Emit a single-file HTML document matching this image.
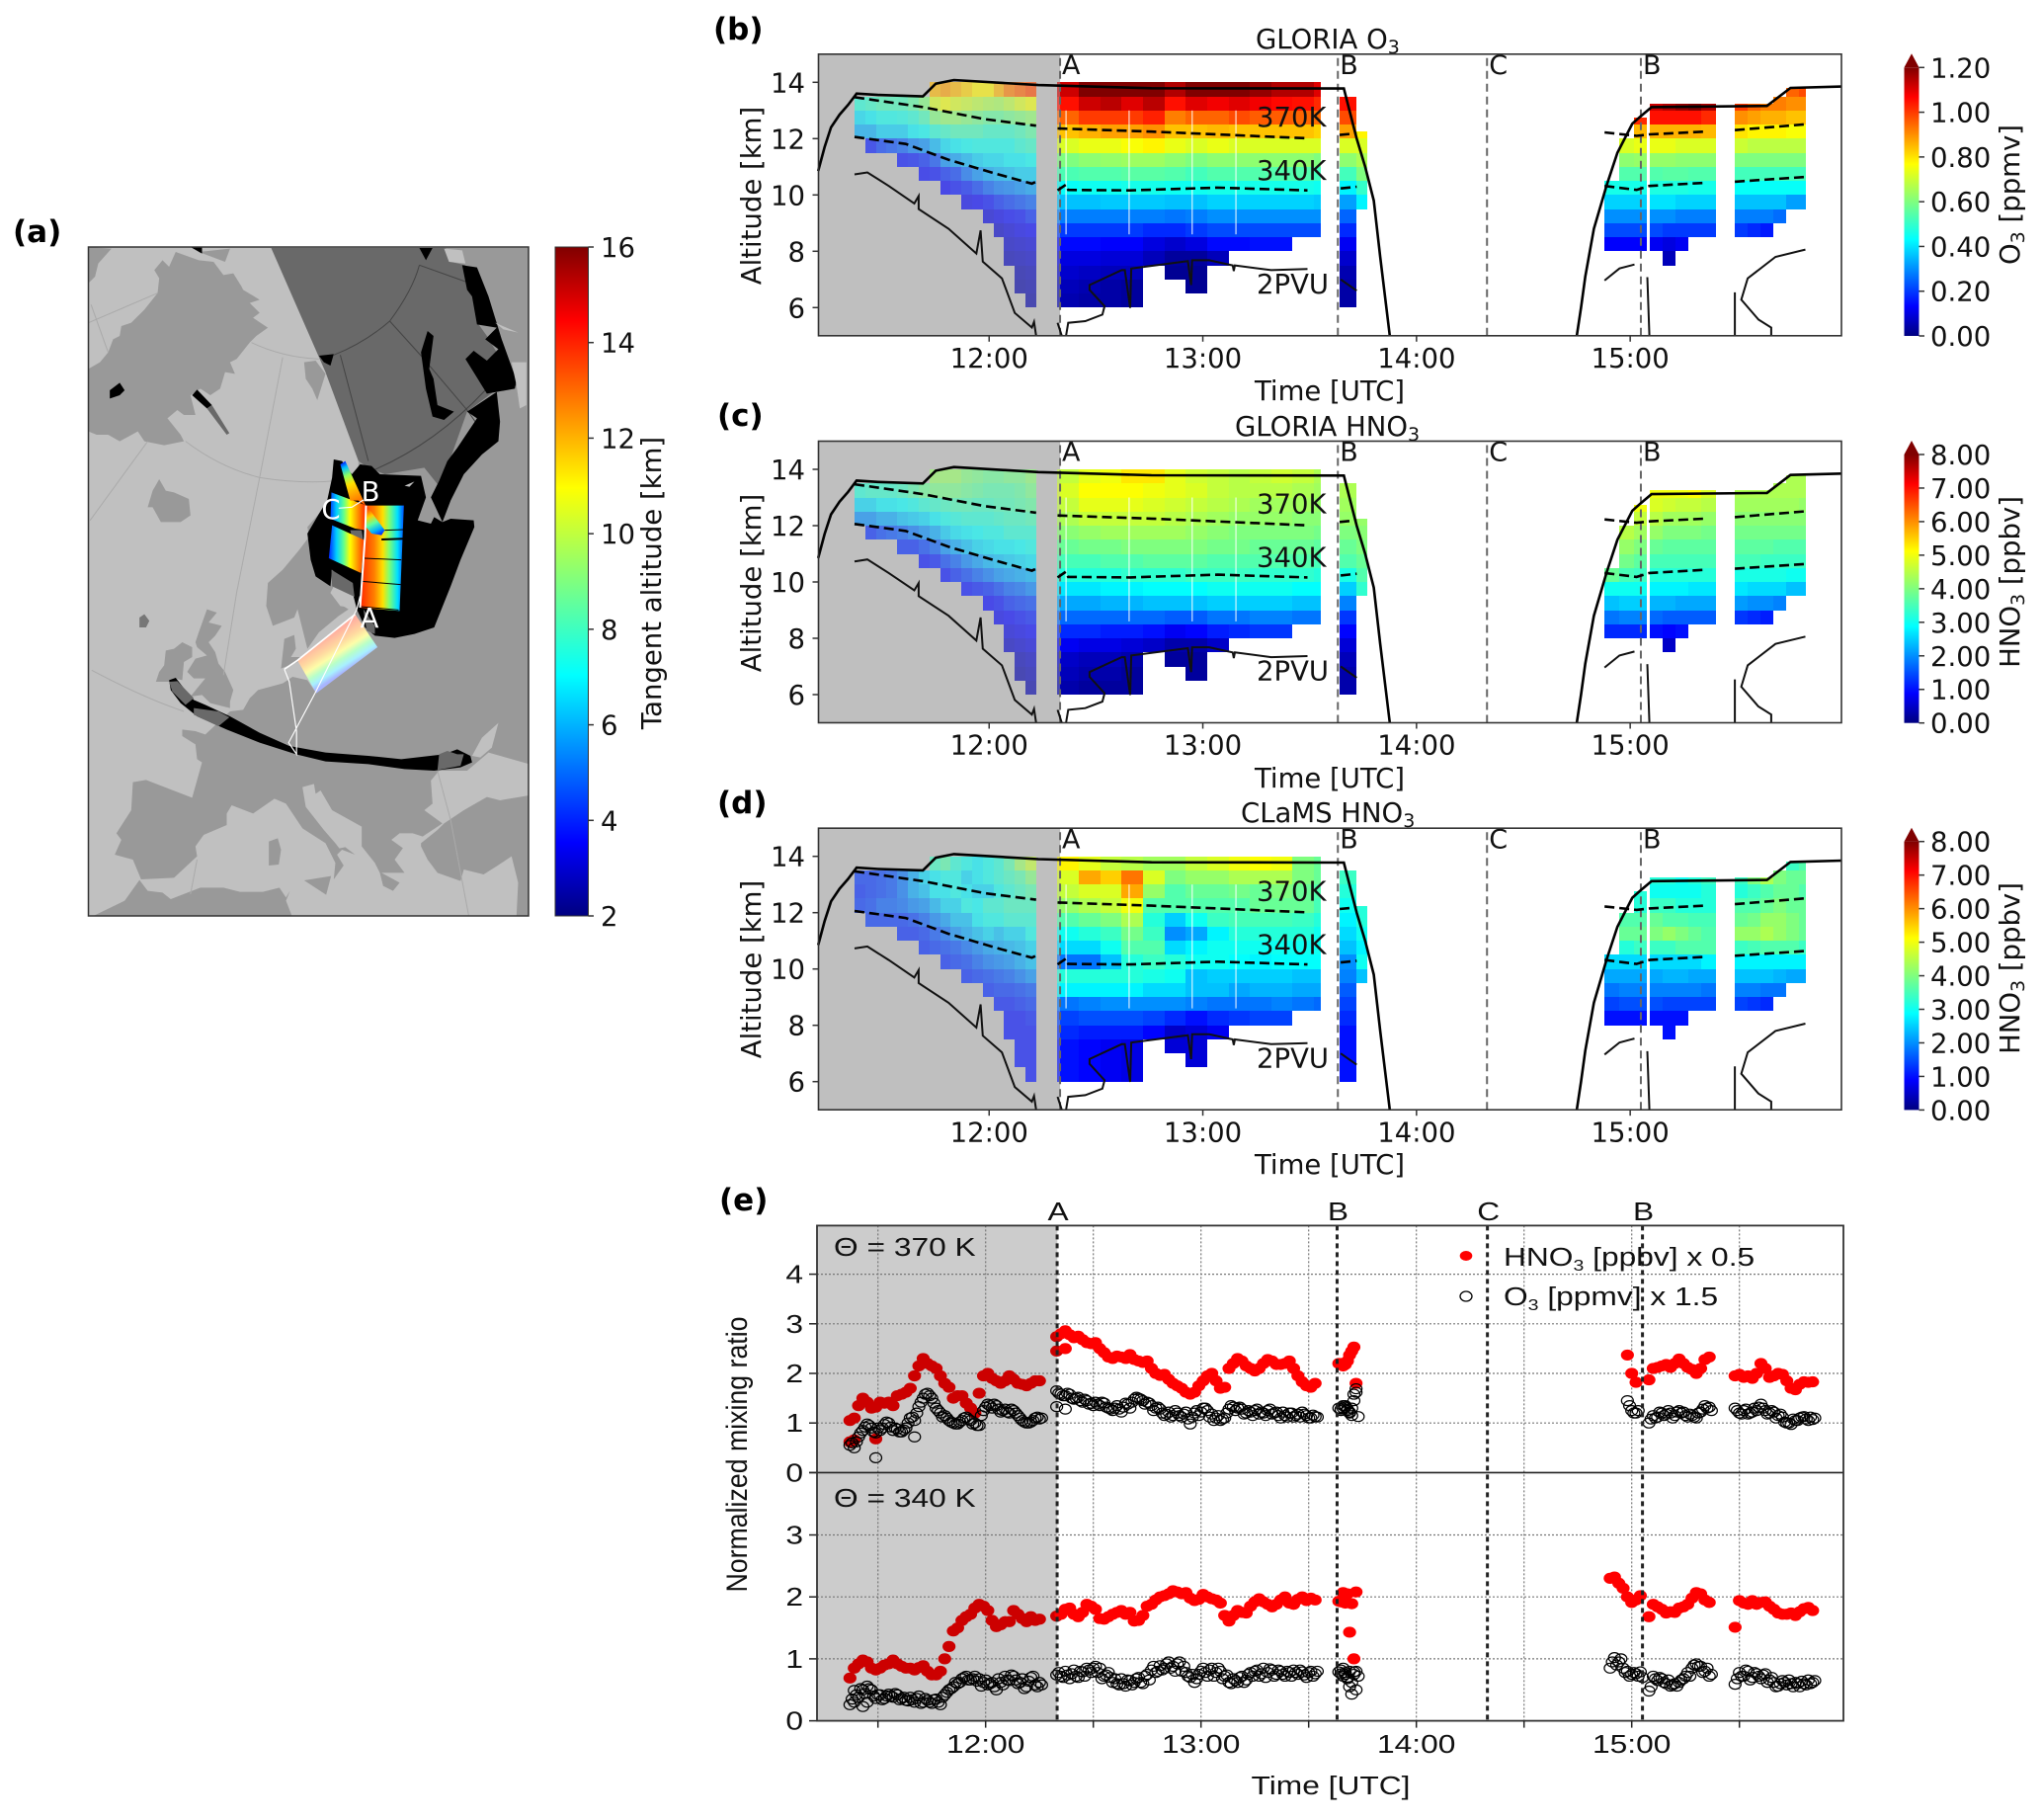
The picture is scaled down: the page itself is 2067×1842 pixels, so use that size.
<!DOCTYPE html>
<html lang="en">
<head>
<meta charset="utf-8">
<title>GLORIA and CLaMS flight composite</title>
<style>
html,body{margin:0;padding:0;background:#fff;}
svg{display:block;}
text{font-family:"DejaVu Sans",sans-serif;font-size:27.5px;fill:#111;}
.panel-letter{font-weight:bold;font-size:31px;fill:#000;}
.sub{font-size:19px;}
.e{font-family:"Liberation Sans",sans-serif;font-size:26px;fill:#111;}
.esub{font-family:"Liberation Sans",sans-serif;font-size:16px;}
</style>
</head>
<body>
<svg id="figure" xmlns="http://www.w3.org/2000/svg" width="2067" height="1842" viewBox="0 0 2067 1842">
<defs>
  <linearGradient id="jetV" x1="0" y1="1" x2="0" y2="0">
    <stop offset="0" stop-color="#000080"/><stop offset=".11" stop-color="#0000ff"/><stop offset=".36" stop-color="#00ffff"/><stop offset=".5" stop-color="#7fff7f"/><stop offset=".64" stop-color="#ffff00"/><stop offset=".89" stop-color="#ff0000"/><stop offset="1" stop-color="#800000"/>
  </linearGradient>
  <linearGradient id="swMain" gradientUnits="userSpaceOnUse" x1="830" y1="0" x2="958" y2="0">
    <stop offset="0" stop-color="#ff3000"/><stop offset=".3" stop-color="#ff8000"/><stop offset=".5" stop-color="#ffe000"/><stop offset=".65" stop-color="#80ff70"/><stop offset=".85" stop-color="#00e0ff"/><stop offset="1" stop-color="#0050ff"/>
  </linearGradient>
  <linearGradient id="swLeft" gradientUnits="userSpaceOnUse" x1="732" y1="0" x2="840" y2="0">
    <stop offset="0" stop-color="#0030ff"/><stop offset=".2" stop-color="#00d0ff"/><stop offset=".4" stop-color="#60ff90"/><stop offset=".58" stop-color="#ffff00"/><stop offset=".8" stop-color="#ff9000"/><stop offset="1" stop-color="#ff3000"/>
  </linearGradient>
  <linearGradient id="swDiagA" gradientUnits="userSpaceOnUse" x1="770" y1="655" x2="830" y2="780">
    <stop offset="0" stop-color="#0020ff"/><stop offset=".12" stop-color="#00c0ff"/><stop offset=".3" stop-color="#90ff60"/><stop offset=".5" stop-color="#ffe000"/><stop offset="1" stop-color="#ff6000"/>
  </linearGradient>
  <linearGradient id="swDiagB" gradientUnits="userSpaceOnUse" x1="850" y1="790" x2="892" y2="872">
    <stop offset="0" stop-color="#ff3000"/><stop offset=".3" stop-color="#ffd000"/><stop offset=".55" stop-color="#60ffa0"/><stop offset=".8" stop-color="#00b0ff"/><stop offset="1" stop-color="#0020ff"/>
  </linearGradient>
  <linearGradient id="swPale" gradientUnits="userSpaceOnUse" x1="722" y1="1185" x2="785" y2="1285">
    <stop offset="0" stop-color="#ffb0a0"/><stop offset=".3" stop-color="#ffd8a0"/><stop offset=".5" stop-color="#fdfda8"/><stop offset=".68" stop-color="#b8ffc8"/><stop offset=".85" stop-color="#a8f0ff"/><stop offset="1" stop-color="#a8b4ff"/>
  </linearGradient>
  <clipPath id="mapClip"><rect x="0" y="0" width="1336" height="2031"/></clipPath>
</defs>

<!-- PANEL A: MAP -->
<g>
  <g transform="translate(89.5,250) scale(0.33333)" clip-path="url(#mapClip)">
    <rect x="0" y="0" width="1338" height="2031" fill="#c0c0c0"/>
    <polygon fill="#999" points="0,370 35,350 60,320 75,280 95,270 100,240 130,230 170,190 210,140 215,95 200,70 225,40 245,60 265,15 335,40 380,45 410,85 440,80 465,120 470,130 520,160 490,170 520,200 500,215 530,235 545,245 510,270 490,290 450,340 430,350 445,385 415,380 400,430 370,450 340,430 310,450 325,510 290,510 270,495 240,520 280,570 290,590 230,602 170,590 150,560 95,590 60,570 25,570 0,560"/>
    <polygon fill="#999" points="0,0 70,5 30,50 20,90 0,110"/>
    <polygon fill="#999" points="335,15 430,5 415,45 375,30"/>
    <polygon fill="#000" points="310,0 345,0 345,20"/>
    <polygon fill="#999" points="180,790 195,740 215,705 235,740 260,745 305,765 310,815 280,835 220,835 195,790"/>
    <polygon fill="#999" points="655,350 690,345 720,385 695,465 680,430 660,400"/>
    <polygon fill="#777" points="155,1125 170,1115 185,1135 175,1155 155,1155"/>
    <polygon fill="#999" points="205,1320 215,1290 230,1270 235,1225 260,1220 285,1200 315,1215 315,1245 290,1260 285,1315 260,1310 245,1320"/>
    <polygon fill="#999" points="325,1200 335,1170 360,1100 390,1110 365,1140 405,1150 385,1180 365,1200 385,1230 395,1265 415,1290 440,1345 430,1380 430,1400 370,1385 345,1360 310,1365 330,1340 355,1310 320,1310 300,1290 325,1250 360,1240 330,1215"/>
    <polygon fill="#999" points="1338,1570 1215,1535 1150,1590 1065,1590 1040,1620 1045,1690 1020,1710 1075,1750 1015,1790 985,1780 945,1780 920,1800 955,1825 930,1860 960,1900 890,1900 945,1930 925,1955 895,1940 885,1900 870,1870 830,1820 830,1760 740,1710 705,1650 690,1660 685,1630 650,1640 660,1700 715,1770 750,1810 762,1826 780,1822 810,1845 770,1830 755,1845 775,1878 745,1920 750,1870 720,1810 650,1765 600,1690 565,1675 500,1720 435,1695 420,1720 420,1755 350,1785 325,1820 330,1850 260,1915 160,1920 135,1860 80,1845 100,1800 85,1780 130,1710 135,1625 175,1618 315,1672 345,1565 330,1555 325,1510 285,1485 285,1465 325,1470 355,1480 430,1410 470,1405 490,1370 515,1345 590,1325 620,1305 665,1315 692,1355 800,1130 820,1080 820,640 1085,3 1338,3"/>
    <polygon fill="#999" points="700,810 665,850 670,880 640,920 590,980 545,1020 540,1090 560,1150 625,1125 635,1100 665,1220 700,1170 760,1120 790,1100 765,1085 735,1050 760,1000 810,1000 820,900"/>
    <polygon fill="#999" points="585,1280 595,1190 625,1178 630,1220 615,1245 650,1245 635,1260"/>
    <polygon fill="#c0c0c0" points="735,1050 765,1090 800,1095 815,1060 775,1040"/>
    <polygon fill="#c0c0c0" points="1165,1545 1195,1490 1245,1445 1225,1520 1190,1550"/>
    <polygon fill="#999" points="548,1805 575,1795 585,1830 578,1875 548,1878"/>
    <polygon fill="#999" points="655,1923 737,1910 722,1967"/>
    <polygon fill="#999" points="1010,1810 1060,1770 1080,1750 1140,1710 1210,1670 1250,1680 1338,1665 1338,2031 1300,2031 1305,1930 1285,1850 1240,1880 1200,1905 1140,1890 1130,1925 1060,1900 1030,1860 1010,1820"/>
    <polygon fill="#999" points="15,2031 110,1985 155,1922 180,1955 225,1960 250,1980 340,1945 410,1945 460,1958 530,1958 580,1945 600,1975 612,1955 600,1985 618,2031"/>
    <polygon fill="#696969" points="555,3 1085,3 1100,45 1145,55 1185,235 1210,270 1300,420 1230,440 1150,500 1100,640 1060,720 1020,670 900,690 850,670 820,650 720,380"/>
    <polygon fill="#c0c0c0" points="1080,5 1135,10 1145,50 1095,45"/>
    <g fill="none" stroke="#444" stroke-width="3">
      <path d="M1005,55 Q985,130 915,225 Q840,290 745,328 M1005,55 L1145,105 M915,225 L1010,330 L1150,495 L1185,545 M765,328 L850,650 M860,680 Q1050,600 1205,435"/>
    </g>
    <g fill="none" stroke="#aaa" stroke-width="3">
      <path d="M0,230 L210,140 M8,175 L60,320 M495,290 Q590,335 700,340 M295,590 Q400,670 520,700 Q650,720 750,710 M590,335 L520,700 L450,1050 L410,1300 M180,590 L5,830 M10,1285 Q170,1370 290,1410 M1060,1590 L1100,1740 L1155,2031 M330,1860 L310,1965"/>
    </g>
    <polygon fill="#000" points="745,645 770,650 800,690 825,660 860,665 885,690 1010,695 1025,760 1000,830 1040,840 1050,820 1075,835 1100,825 1170,830 1172,850 1130,950 1100,1030 1050,1155 990,1175 930,1187 870,1180 840,1155 815,1100 800,1040 740,980 735,1030 690,1000 675,950 665,870 700,810 725,770 740,700"/>
    <polygon fill="#000" points="1240,440 1250,530 1245,590 1195,630 1140,690 1100,770 1075,835 1040,760 1065,710 1090,650 1120,610 1140,580 1180,520 1150,500"/>
    <polygon fill="#000" points="1135,55 1180,62 1215,150 1255,280 1300,405 1295,430 1240,440 1210,445 1145,340 1170,315 1210,345 1245,310 1205,280 1240,245 1180,235 1165,150 1150,130"/>
    <polygon fill="#000" points="1030,255 1048,270 1035,370 1048,400 1060,480 1110,500 1080,525 1045,515 1025,430 1010,320"/>
    <polygon fill="#000" points="700,330 745,325 735,360 715,350"/>
    <polygon fill="#000" points="1005,3 1045,3 1025,40"/>
    <polygon fill="#000" points="65,435 95,412 110,435 95,450 65,460"/>
    <polygon fill="#000" points="315,450 330,433 375,480 360,490"/>
    <polygon fill="#696969" points="360,490 375,480 428,565 420,570"/>
    <polygon fill="#c0c0c0" points="1235,230 1305,260 1260,250"/>
    <polygon fill="#c0c0c0" points="1285,350 1330,350 1330,480 1310,490 1300,420"/>
    <polygon fill="#c0c0c0" points="960,725 990,712 975,728"/>
    <polygon fill="#696969" points="738,980 803,1020 808,1062 740,1030"/>
    <polygon fill="#696969" points="835,1100 870,1150 870,1175 845,1165"/>
    <polygon fill="#696969" points="795,860 830,860 835,895 800,880"/>
    <polygon fill="#000" points="245,1315 265,1308 290,1340 320,1375 355,1390 430,1425 520,1475 610,1515 720,1535 850,1545 950,1555 1080,1540 1120,1525 1160,1545 1165,1565 1130,1580 1050,1590 960,1585 850,1570 720,1562 630,1540 520,1505 420,1465 330,1425 280,1385 250,1345"/>
    <polygon fill="#696969" points="245,1320 270,1318 320,1370 295,1390 255,1350"/>
    <polygon fill="#696969" points="320,1400 395,1410 428,1428 395,1455 320,1420"/>
    <polygon fill="#696969" points="1065,1540 1090,1530 1120,1540 1140,1540 1130,1575 1060,1588"/>
    <polygon fill="url(#swMain)" points="845,785 958,785 945,1105 825,1095"/>
    <polygon fill="url(#swLeft)" points="740,845 838,890 828,990 730,945"/>
    <polygon fill="url(#swLeft)" points="738,745 845,785 842,860 810,855 735,825"/>
    <polygon fill="url(#swDiagA)" points="765,660 780,650 842,785 820,770 795,770"/>
    <polygon fill="url(#swDiagB)" points="845,785 900,860 890,875 860,870 843,850"/>
    <polygon fill="url(#swPale)" points="810,1115 878,1215 692,1355 635,1255"/>
    <g stroke="#000" fill="none">
      <path stroke-width="3" d="M900,860 L958,858 M838,945 L950,950 M830,1015 L948,1025 M828,1092 L942,1102"/>
      <path stroke-width="6" d="M890,888 L978,885"/>
    </g>
    <g stroke="#fff" fill="none">
      <path stroke-width="6" d="M843,785 L840,880 L825,1095"/>
      <path stroke-width="5" d="M810,1115 L635,1255 L595,1282"/>
      <path stroke-width="3.5" d="M835,768 L800,790 L760,793 M595,1282 L610,1320 L632,1470 L632,1540 L608,1505 L688,1355 L815,1100 L825,1060"/>
    </g>
  </g>
  <text x="374" y="635" text-anchor="middle" style="fill:#fff">A</text>
  <text x="375" y="507" text-anchor="middle" style="fill:#fff">B</text>
  <text x="335" y="525" text-anchor="middle" style="fill:#fff">C</text>
  <rect x="89.5" y="250" width="445.5" height="677" fill="none" stroke="#333" stroke-width="1.5"/>
</g>
<text class="panel-letter" x="13" y="245">(a)</text>
<rect x="562" y="250" width="33.5" height="677" fill="url(#jetV)" stroke="#333" stroke-width="1"/>
<text transform="rotate(-90 669 590)" x="669" y="590" text-anchor="middle">Tangent altitude [km]</text>

<!-- PANEL B -->
<text class="panel-letter" x="722" y="40">(b)</text>
<text x="1271" y="49">GLORIA O<tspan class="sub" dy="5">3</tspan></text>
<g id="panel-b"></g>
<text transform="rotate(-90 770 198)" x="770" y="198" text-anchor="middle">Altitude [km]</text>
<text x="1346" y="405" text-anchor="middle">Time [UTC]</text>
<text transform="rotate(-90 2044 197)" x="2044" y="197" text-anchor="middle">O<tspan class="sub" dy="5">3</tspan><tspan dy="-5"> [ppmv]</tspan></text>

<!-- PANEL C -->
<text class="panel-letter" x="726" y="431">(c)</text>
<text x="1250" y="441">GLORIA HNO<tspan class="sub" dy="5">3</tspan></text>
<g id="panel-c"></g>
<text transform="rotate(-90 770 590)" x="770" y="590" text-anchor="middle">Altitude [km]</text>
<text x="1346" y="797" text-anchor="middle">Time [UTC]</text>
<text transform="rotate(-90 2044 589)" x="2044" y="589" text-anchor="middle">HNO<tspan class="sub" dy="5">3</tspan><tspan dy="-5"> [ppbv]</tspan></text>

<!-- PANEL D -->
<text class="panel-letter" x="726" y="823">(d)</text>
<text x="1256" y="832">CLaMS HNO<tspan class="sub" dy="5">3</tspan></text>
<g id="panel-d"></g>
<text transform="rotate(-90 770 981)" x="770" y="981" text-anchor="middle">Altitude [km]</text>
<text x="1346" y="1188" text-anchor="middle">Time [UTC]</text>
<text transform="rotate(-90 2044 980)" x="2044" y="980" text-anchor="middle">HNO<tspan class="sub" dy="5">3</tspan><tspan dy="-5"> [ppbv]</tspan></text>

<!-- PANEL E -->
<text class="panel-letter" x="728" y="1225">(e)</text>
<g id="panel-e"></g>
<text class="e" transform="rotate(-90 756 1472)" x="756" y="1472" text-anchor="middle" style="font-size:30px" textLength="279" lengthAdjust="spacingAndGlyphs">Normalized mixing ratio</text>
<text class="e" transform="translate(1347,1816) scale(1.22,1)" text-anchor="middle">Time [UTC]</text>
<text class="e" transform="translate(844,1271) scale(1.22,1)">Θ = 370 K</text>
<text class="e" transform="translate(844,1525) scale(1.22,1)">Θ = 340 K</text>
<g>
  <ellipse cx="1484" cy="1271" rx="6.3" ry="5" fill="#f00"/>
  <ellipse cx="1484" cy="1312" rx="6" ry="5" fill="none" stroke="#000" stroke-width="1.3"/>
  <text class="e" transform="translate(1522,1281) scale(1.22,1)">HNO<tspan class="esub" dy="5">3</tspan><tspan dy="-5"> [ppbv] x 0.5</tspan></text>
  <text class="e" transform="translate(1522,1321) scale(1.22,1)">O<tspan class="esub" dy="5">3</tspan><tspan dy="-5"> [ppmv] x 1.5</tspan></text>
</g>
</svg>

<script>
const n = null;

/* ---------- curtain column geometry (hours UTC) ---------- */
const colStart = [11.37,11.42,11.47,11.52,11.57,11.62,11.67,11.72,11.77,11.82,11.87,11.92,11.97,12.02,12.07,12.12,12.17,
  12.32,12.42,12.52,12.62,12.72,12.82,12.92,13.02,13.12,13.22,13.32,13.42,13.52,
  13.64,13.72,
  14.88,14.95,15.02,15.09,15.15,15.21,15.27,15.33,
  15.49,15.55,15.61,15.67,15.73,15.79];
const colEnd = [11.42,11.47,11.52,11.57,11.62,11.67,11.72,11.77,11.82,11.87,11.92,11.97,12.02,12.07,12.12,12.17,12.22,
  12.42,12.52,12.62,12.72,12.82,12.92,13.02,13.12,13.22,13.32,13.42,13.52,13.55,
  13.72,13.77,
  14.95,15.02,15.08,15.15,15.21,15.27,15.33,15.40,
  15.49+0.06,15.61,15.67,15.73,15.79,15.82];
/* highest retrieved altitude of each column, km */
const colCeiling = [13.55,13.55,13.55,13.55,13.55,13.55,13.55,14,14,14,14,14,14,14,14,14,14,
  14,14,14,14,14,14,14,14,14,14,14,14,14,
  13.5,12.25,
  10.5,12,12.75,13.25,13.25,13.25,13.25,13.25,
  13.25,13.25,13.25,13.5,13.8,13.8];
/* Each column lists values from the 14.0-13.5 km level downward in 0.5 km levels */
const levelTop = 14;
const levelStep = 0.5;

const o3Columns = [
[n,.48,.4,.34],[n,.5,.42,.34,.16],[n,.52,.45,.38,.2],[n,.52,.45,.38,.22],[n,.52,.46,.38,.24,.15],[n,.55,.48,.42,.28,.16],
[n,.6,.52,.44,.3,.18,.14],[.85,.72,.6,.48,.35,.22,.15],[.88,.75,.62,.5,.4,.3,.18,.13],[.85,.72,.62,.52,.42,.32,.2,.15],
[.82,.7,.6,.52,.44,.35,.26,.17,.12],[.78,.68,.58,.52,.45,.38,.3,.2,.13],[.78,.66,.56,.5,.45,.4,.33,.24,.15,.1],
[.85,.65,.56,.5,.45,.4,.35,.27,.18,.12,.08],[.92,.68,.58,.5,.45,.42,.36,.28,.2,.14,.1,.08,.06],
[.95,.72,.6,.52,.48,.42,.38,.3,.22,.15,.12,.09,.07,.05,.04],[.98,.75,.62,.55,.5,.44,.38,.32,.24,.18,.13,.1,.08,.06,.05,.04],
[1.12,1.05,.95,.84,.72,.6,.53,.44,.36,.28,.2,.14,.1,.08,.06,.05],[1.2,1.12,1.0,.86,.74,.62,.54,.45,.36,.28,.2,.14,.1,.07,.05,.04],
[1.2,1.14,1.0,.88,.74,.63,.54,.45,.37,.28,.2,.13,.09,.06,.04,.04],[1.2,1.1,1.0,.88,.76,.64,.55,.46,.37,.28,.2,.13,.09,.06,.03,.03],
[1.2,1.14,1.03,.9,.78,.64,.55,.46,.37,.28,.18,.1,.06],[1.15,1.05,.92,.84,.74,.62,.54,.45,.36,.27,.18,.08,.03,.02],
[1.2,1.1,.95,.84,.72,.6,.52,.45,.36,.28,.2,.1,.03,.02,.02],[1.2,1.08,.95,.85,.74,.62,.54,.46,.38,.3,.22,.14,.06],
[1.2,1.1,.98,.84,.72,.62,.54,.46,.38,.3,.22,.14],[1.18,1.08,.96,.84,.72,.62,.54,.46,.38,.3,.22,.15],
[1.15,1.06,.96,.84,.72,.62,.54,.46,.38,.3,.22,.15],[1.15,1.05,.95,.84,.72,.62,.54,.46,.38,.3,.22],[1.1,1.02,.94,.82,.72,.6,.52,.45,.37,.3,.22],
[n,1.05,.98,.88,.72,.62,.52,.42,.32,.25,.18,.12,.08,.05,.04,.04],[n,n,n,.78,.72,.66,.6,.5,.42],
[n,n,n,n,n,n,n,.46,.38,.3,.22,.13],[n,n,n,n,.72,.62,.54,.46,.38,.3,.22,.13],[n,n,1.02,.85,.74,.63,.54,.46,.38,.3,.22,.13],
[n,1.12,1.05,.86,.74,.63,.54,.47,.4,.3,.22,.12],[n,1.15,1.05,.86,.74,.63,.55,.47,.4,.3,.2,.1,.06],[n,1.18,1.05,.86,.72,.62,.55,.47,.38,.28,.2,.12],
[n,1.2,1.05,.86,.72,.62,.54,.46,.38,.28,.2],[n,1.15,1.02,.85,.72,.62,.54,.46,.38,.28,.2],
[n,1.0,.9,.8,.7,.6,.52,.44,.36,.28,.2],[n,.95,.88,.78,.68,.6,.52,.44,.36,.28,.18],[n,.92,.86,.78,.68,.6,.52,.44,.36,.28,.16],
[n,.92,.86,.78,.68,.6,.52,.44,.36,.26],[.95,.9,.84,.76,.68,.6,.52,.44,.32],[.98,.9,.84,.76,.68,.6,.52,.44,.32]
];

const gloriaHno3Columns = [
[n,3.2,2.6,2.0],[n,3.3,2.6,2.0,1.2],[n,3.3,2.8,2.2,1.4],[n,3.3,2.8,2.2,1.5],[n,3.4,2.9,2.4,1.6,1.2],[n,3.6,3.0,2.5,1.8,1.2],
[n,3.8,3.2,2.6,2.0,1.4,1.0],[4.2,3.9,3.3,2.8,2.2,1.6,1.1],[4.2,3.9,3.4,3.0,2.5,2.0,1.4,1.0],[4.2,3.9,3.5,3.1,2.7,2.2,1.6,1.2],
[4.0,3.8,3.5,3.2,2.8,2.4,1.9,1.4,1.0],[3.9,3.7,3.4,3.2,2.9,2.6,2.1,1.6,1.1],[3.8,3.6,3.4,3.2,3.0,2.7,2.3,1.8,1.2,.9],
[3.8,3.6,3.5,3.3,3.0,2.8,2.4,2.0,1.4,1.0,.8],[3.9,3.6,3.5,3.4,3.2,2.8,2.5,2.1,1.6,1.2,.9,.7,.5],
[3.9,3.7,3.6,3.4,3.2,2.9,2.6,2.2,1.7,1.3,1.0,.8,.6,.4,.3],[4.1,3.9,3.7,3.5,3.2,3.0,2.7,2.3,1.9,1.4,1.1,.9,.7,.5,.4,.3],
[4.6,4.8,4.6,4.4,4.1,3.8,3.5,3.2,2.7,2.2,1.7,1.2,.8,.5,.4,.3],[4.9,5.1,4.9,4.6,4.2,3.9,3.5,3.2,2.7,2.2,1.7,1.2,.7,.4,.3,.2],
[5.0,5.1,4.9,4.6,4.3,3.9,3.6,3.2,2.8,2.3,1.7,1.1,.7,.4,.3,.2],[5.3,5.1,4.9,4.6,4.3,4.0,3.6,3.3,2.8,2.3,1.7,1.1,.6,.3,.2,.2],
[5.3,5.0,4.8,4.6,4.3,4.0,3.7,3.3,2.9,2.4,1.7,1,.5],[4.9,4.9,4.7,4.5,4.3,4.0,3.7,3.3,2.9,2.4,1.6,.8,.3,.2],
[4.7,4.8,4.6,4.4,4.2,4.0,3.7,3.4,2.9,2.4,1.6,.9,.3,.2,.2],[4.6,4.6,4.5,4.3,4.1,3.9,3.6,3.4,3.0,2.5,1.8,1.1,.5],
[4.5,4.5,4.4,4.2,4.0,3.9,3.6,3.4,3.0,2.5,1.8,1.2],[4.6,4.5,4.3,4.2,4.0,3.8,3.6,3.3,3.0,2.5,1.9,1.3],
[4.7,4.5,4.3,4.2,4.0,3.8,3.6,3.3,3.0,2.5,1.9,1.3],[4.6,4.4,4.3,4.1,4.0,3.8,3.6,3.3,2.9,2.4,1.8],[4.4,4.3,4.2,4.1,3.9,3.7,3.5,3.2,2.9,2.4,1.8],
[n,4.4,4.3,4.2,4.0,3.8,3.6,3.1,2.5,1.9,1.3,.9,.6,.4,.3,.3],[n,n,n,4.2,4.1,4.0,3.8,3.6,3.3],
[n,n,n,n,n,n,n,3.8,3.0,2.4,1.8,1.2],[n,n,n,n,4.5,4.2,3.9,3.5,3.0,2.5,1.9,1.2],[n,n,5.0,4.6,4.3,4.0,3.7,3.4,3.0,2.5,1.9,1.2],
[n,5.0,4.8,4.5,4.2,3.8,3.5,3.2,2.8,2.3,1.7,1.0],[n,5.0,4.7,4.3,4.0,3.7,3.5,3.2,2.8,2.3,1.6,.9,.5],[n,5.0,4.6,4.3,4.0,3.7,3.5,3.2,2.8,2.2,1.6,1.0],
[n,5.1,4.6,4.3,4.0,3.7,3.5,3.2,2.7,2.2,1.6],[n,4.8,4.5,4.2,3.9,3.7,3.5,3.2,2.7,2.2,1.6],
[n,4.4,4.3,4.1,3.9,3.7,3.5,3.1,2.7,2.1,1.3],[n,4.4,4.3,4.1,3.9,3.7,3.5,3.1,2.6,2.0,1.2],[n,4.4,4.3,4.1,3.9,3.7,3.4,3.1,2.6,2.0,1.1],
[n,4.4,4.3,4.1,3.9,3.6,3.4,3.1,2.6,1.9],[4.4,4.4,4.3,4.1,3.9,3.6,3.4,3.0,2.4],[4.4,4.4,4.2,4.1,3.9,3.6,3.4,3.0,2.4]
];

const clamsHno3Columns = [
[n,1.3,1.2,1.3],[n,1.3,1.3,1.4,1.3],[n,1.4,1.4,1.6,1.3],[n,1.5,1.5,1.6,1.3],[n,1.8,1.8,1.7,1.3,1.2],[n,2.2,2.2,1.9,1.4,1.2],
[n,2.6,2.4,2.0,1.6,1.3,1.2],[3.4,2.8,2.8,2.3,1.9,1.5,1.3],[3.6,3.0,2.8,2.6,2.1,1.7,1.4,1.2],[3.2,3.0,3.0,2.6,2.4,2.0,1.5,1.3],
[3.0,2.6,2.8,3.0,2.4,2.2,1.7,1.4,1.2],[2.8,2.8,2.6,2.9,2.8,2.4,1.9,1.6,1.3],[3.0,3.0,2.6,3.2,3.0,2.6,2.1,1.8,1.4,1.2],
[3.2,3.2,3.0,3.2,3.0,2.4,2.2,1.9,1.5,1.3,1.1],[3.6,3.4,3.2,3.4,3.2,2.6,2.3,2.0,1.6,1.3,1.1,1,1],
[4.2,3.6,3.4,3.4,3.2,2.6,2.4,2.2,1.8,1.4,1.2,1,1,1,1],[4.6,4.0,3.6,3.4,3.2,3.0,2.6,2.4,2.0,1.5,1.3,1.1,1,1,1,1],
[5.2,4.8,4.6,4.2,3.6,3.0,2.6,1.8,3.2,2.8,1.8,1.4,1.2,1,1,1],[4.9,5.8,4.8,4.4,3.8,3.2,2.6,1.8,3.2,2.8,1.9,1.5,1.1,.9,.9,.9],
[4.6,5.5,4.8,4.6,4.0,3.4,3,2.4,3.2,2.8,2.0,1.5,1.1,.8,.8,.8],[4.5,6.2,5.8,5.0,4.4,3.9,3.6,3.2,3.2,2.8,2.0,1.5,1.1,.7,.7,.7],
[4.3,4.8,4.2,3.6,3.2,3.4,3.6,3.4,3.1,2.6,2.0,1.4,.9],[4.3,4.0,3.6,3.6,2.5,2.0,2.6,3.2,3,2.6,2.0,1.2,.5,.6],
[4.6,4.2,3.8,3.6,3.0,2.2,2.8,3.0,2.4,2.4,1.9,1.0,.6,.6,.6],[4.8,4.2,3.8,3.6,3.4,2.8,3.0,3.0,2.5,2.4,1.8,1.2,.8],
[5.0,4.4,3.9,3.6,3.5,3.2,3.0,2.9,2.5,2.2,1.8,1.3],[5.1,4.4,3.8,3.8,3.5,3.2,3.0,2.8,2.5,2.3,1.8,1.4],
[5.0,4.4,4,3.8,3.5,3.2,3.0,2.9,2.5,2.3,1.9,1.4],[4.0,4.0,3.8,3.8,3.4,3.2,3.0,2.9,2.4,2.2,1.8],[3.8,3.8,3.6,3.5,3.2,3.0,3.0,2.9,2.4,2.2,1.7],
[n,3.4,3.2,3.0,2.8,2.6,2.4,2.0,1.9,1.6,1.4,1.2,1,1,1,1],[n,n,n,3.2,3.2,3.0,2.8,3.0,2.4],
[n,n,n,n,n,n,n,2.6,2.2,1.8,1.4,1.0],[n,n,n,n,3.6,3.8,3.2,2.6,2.2,1.9,1.5,1.0],[n,n,3.2,3.2,3.6,3.8,3.4,2.6,2.2,1.9,1.5,1],
[n,3.2,3.0,3.4,3.8,4.0,3.4,2.6,2.2,1.9,1.5,1],[n,3.2,3.0,3.4,3.6,4.2,3.4,2.6,2.3,1.9,1.4,1,1],[n,3.0,3.0,3.2,3.6,4.0,3.6,2.6,2.3,1.9,1.4,1],
[n,3.2,3.0,3.2,3.5,3.8,3.6,2.6,2.2,1.9,1.4],[n,3.4,3.2,3.2,3.5,3.6,3.6,2.8,2.2,1.8,1.4],
[n,3.4,3.2,3.6,3.8,4.2,3.4,2.8,2.4,1.9,1.4],[n,4.0,3.4,3.6,3.9,4.2,3.5,2.8,2.4,1.9,1.3],[n,4.4,3.6,3.8,4.2,4.4,3.6,2.8,2.4,1.8,1.2],
[n,4.0,3.8,4.0,4.2,4.2,3.6,2.8,2.3,1.8],[3.4,3.8,3.8,3.8,4.0,4.0,3.6,2.8,2.2],[3.6,3.8,3.6,3.8,3.8,3.8,3.4,2.8,2.2]
];

/* ---------- curtain overlay lines (null breaks the line) ---------- */
const flightTimes = [11.2,11.23,11.26,11.3,11.34,11.38,11.48,11.69,11.75,11.835,12.23,12.76,13.66,13.72,13.76,13.8,13.83,13.875,n,14.75,14.77,14.79,14.83,14.89,14.94,15.01,15.05,15.1,15.64,15.75,15.99];
const flightAlts = [10.85,11.7,12.4,12.85,13.2,13.6,13.55,13.5,13.95,14.08,13.9,13.79,13.78,12.0,11.0,9.8,7.8,5,n,5,6,7.1,8.8,10.35,11.5,12.53,12.8,13.12,13.16,13.8,13.85];
const theta370Times = [11.37,11.69,11.98,12.22,n,12.32,12.76,13.13,13.49,n,13.64,13.72,n,14.88,15.03,15.09,15.35,n,15.49,15.82];
const theta370Alts = [13.47,13.12,12.69,12.46,n,12.36,12.25,12.13,12.01,n,12.13,12.19,n,12.22,12.1,12.15,12.25,n,12.3,12.51];
const theta340Times = [11.37,11.61,11.81,12.02,12.2,12.22,n,12.32,12.36,12.37,12.66,13.07,13.49,n,13.645,13.72,n,14.88,15.03,15.09,15.35,n,15.49,15.82];
const theta340Alts = [12.06,11.81,11.25,10.78,10.4,10.47,n,10.16,10.37,10.18,10.16,10.26,10.16,n,10.23,10.29,n,10.32,10.18,10.32,10.43,n,10.47,10.64];
const pvuTimes = [11.37,11.43,11.53,11.65,11.67,11.67,11.81,11.94,11.96,11.97,12.06,12.12,12.2,12.21,12.22,n,12.32,12.34,n,12.36,12.37,12.45,12.53,12.54,12.47,12.47,12.62,12.635,12.66,12.665,12.93,12.945,12.95,13.03,13.14,13.145,13.15,13.32,13.49,n,13.645,13.72,n,14.88,14.95,15.02,n,15.08,15.09,n,15.49,15.49,n,15.66,15.66,15.6,15.52,15.55,15.68,15.82];
const pvuAlts = [10.73,10.8,10.32,9.7,9.96,9.5,8.8,7.92,8.74,7.63,7.04,5.81,5.29,5.49,5,n,5.46,5,n,5,5.46,5.52,5.75,6.05,6.63,6.8,7.33,7.33,5.99,7.39,7.65,6.8,7.68,7.68,7.5,7.3,7.5,7.33,7.37,n,7.0,6.6,n,6.96,7.39,7.53,n,7.08,5,n,6.54,5,n,5,5.29,5.58,6.28,7.04,7.8,8.06];
const scanGapTimes = [12.36,12.655,12.95,13.155,15.085];

/* ---------- shared axis labels ---------- */
const altTicks = [6,8,10,12,14];
const hourTicks = [12,13,14,15];
const hourLabels = ['12:00','13:00','14:00','15:00'];
const waypointNames = ['A','B','C','B'];
const waypointTimes = [12.332,13.632,14.33,15.05];
const o3CbarTicks = ['0.00','0.20','0.40','0.60','0.80','1.00','1.20'];
const hno3CbarTicks = ['0.00','1.00','2.00','3.00','4.00','5.00','6.00','7.00','8.00'];
const altCbarTicks = [2,4,6,8,10,12,14,16];

/* ---------- panel (e) scatter ---------- */
const sampleTimes = [
11.37,11.39,11.41,11.43,11.45,11.47,11.49,11.51,11.53,11.55,11.57,11.59,11.61,11.63,11.65,11.67,11.69,11.71,11.73,11.75,11.77,11.79,11.81,11.83,11.85,11.87,11.89,11.91,11.93,11.95,11.97,11.99,12.01,12.03,12.05,12.07,12.09,12.11,12.13,12.15,12.17,12.19,12.21,12.23,12.25,
12.33,12.35,12.37,12.39,12.41,12.43,12.45,12.47,12.49,12.51,12.53,12.55,12.57,12.59,12.61,12.63,12.65,12.67,12.69,12.71,12.73,12.75,12.77,12.79,12.81,12.83,12.85,12.87,12.89,12.91,12.93,12.95,12.97,12.99,13.01,13.03,13.05,13.07,13.09,13.11,13.13,13.15,13.17,13.19,13.21,13.23,13.25,13.27,13.29,13.31,13.33,13.35,13.37,13.39,13.41,13.43,13.45,13.47,13.49,13.51,13.53,
13.64,13.65,13.66,13.67,13.68,13.69,13.70,13.71,13.72,
14.90,14.92,14.94,14.96,14.98,15.00,15.02,15.04,15.06,15.08,15.10,15.12,15.14,15.16,15.18,15.20,15.22,15.24,15.26,15.28,15.30,15.32,15.34,15.36,
15.48,15.50,15.52,15.54,15.56,15.58,15.60,15.62,15.64,15.66,15.68,15.70,15.72,15.74,15.76,15.78,15.80,15.82,15.84];

const hno3Theta370 = [
1.05,1.1,1.35,1.5,1.42,1.3,1.32,1.42,1.4,1.42,1.35,1.55,1.58,1.62,1.7,1.95,2.15,2.3,2.2,2.15,2.1,1.95,1.8,1.72,1.5,1.55,1.55,1.4,1.3,1.2,1.6,1.95,2.0,1.9,1.85,1.8,1.85,1.95,1.88,1.8,1.78,1.75,1.8,1.85,1.85,
2.74,2.8,2.86,2.78,2.72,2.75,2.68,2.62,2.6,2.62,2.5,2.42,2.33,2.3,2.35,2.33,2.3,2.38,2.28,2.25,2.22,2.25,2.1,2.0,1.96,1.98,1.88,1.8,1.75,1.7,1.62,1.58,1.62,1.75,1.85,1.95,2.0,1.85,1.7,1.72,2.1,2.2,2.3,2.25,2.15,2.1,2.05,2.1,2.2,2.28,2.25,2.18,2.18,2.2,2.25,2.1,1.95,1.83,1.75,1.72,1.8,
2.2,2.2,2.15,2.18,2.25,2.37,2.45,2.53,1.8,
n,n,n,n,2.37,2.0,1.82,n,n,1.87,2.1,2.12,2.15,2.18,2.12,2.2,2.29,2.2,2.12,2.08,2.0,2.1,2.28,2.33,
1.95,1.98,1.92,1.95,1.9,2.0,2.2,2.1,1.92,1.95,2.0,1.98,1.85,1.7,1.67,1.78,1.83,1.82,1.83];
const o3Theta370 = [
.55,.5,.72,.85,.98,.9,.8,.85,.97,1.0,.85,.88,.82,.9,1.1,1.05,1.33,1.5,1.6,1.5,1.3,1.2,1.15,1.05,1.0,.98,1.05,1.12,1.05,1.0,.95,1.25,1.38,1.3,1.35,1.22,1.28,1.2,1.25,1.15,1.05,1.0,1.02,1.1,1.08,
1.65,1.58,1.55,1.58,1.48,1.52,1.42,1.45,1.4,1.42,1.35,1.4,1.3,1.25,1.35,1.22,1.4,1.3,1.48,1.5,1.45,1.42,1.35,1.3,1.28,1.15,1.22,1.15,1.2,1.12,1.22,.98,1.2,1.15,1.3,1.25,1.18,1.1,1.05,1.1,1.28,1.32,1.3,1.28,1.2,1.22,1.25,1.18,1.2,1.25,1.18,1.22,1.1,1.15,1.2,1.12,1.18,1.22,1.15,1.1,1.13,
1.3,1.28,1.3,1.35,1.25,1.2,1.3,1.58,1.69,
n,n,n,n,1.45,1.25,1.2,n,n,1.0,1.15,1.12,1.2,1.18,1.2,1.15,1.25,1.22,1.12,1.15,1.1,1.22,1.35,1.32,
1.3,1.2,1.25,1.18,1.22,1.25,1.38,1.25,1.2,1.22,1.15,1.12,1.0,.97,1.05,1.1,1.13,1.05,1.07];
/* in-between O3 readings, each 0.01 h after the matching sample time */
const o3Theta370Between = [
.6,.62,.8,.92,.95,.82,.9,.9,1.02,.92,.9,.82,.86,1.0,1.12,1.2,1.42,1.58,1.55,1.4,1.25,1.12,1.1,1.02,.98,1.02,1.1,1.08,.98,.95,1.15,1.32,1.35,1.38,1.28,1.25,1.22,1.28,1.2,1.1,1.02,1.0,1.05,1.12,1.1,
1.6,1.55,1.6,1.5,1.5,1.45,1.48,1.38,1.35,1.38,1.42,1.32,1.28,1.3,1.28,1.32,1.38,1.42,1.52,1.48,1.38,1.4,1.25,1.32,1.2,1.18,1.12,1.25,1.15,1.18,1.08,1.12,1.25,1.22,1.3,1.12,1.05,1.15,1.08,1.2,1.35,1.25,1.32,1.18,1.25,1.15,1.28,1.22,1.15,1.28,1.2,1.15,1.22,1.12,1.2,1.15,1.12,1.18,1.1,1.16,1.12,
1.25,1.35,1.32,1.28,1.22,1.15,1.45,1.62,1.13,
n,n,n,n,1.35,1.2,1.25,n,n,1.08,1.1,1.22,1.15,1.25,1.1,1.22,1.2,1.15,1.18,1.12,1.2,1.28,1.3,1.25,
1.25,1.18,1.28,1.2,1.3,1.32,1.3,1.18,1.25,1.1,1.18,1.02,1.0,1.08,1.05,1.12,1.08,1.12,1.1];
const hno3Theta340 = [
.69,.85,.92,.98,.95,.85,.82,.85,.9,.92,.98,.92,.88,.85,.85,.82,.86,.89,.8,.74,.74,.8,1.0,1.2,1.45,1.5,1.62,1.68,1.72,1.82,1.88,1.85,1.78,1.62,1.52,1.55,1.6,1.6,1.78,1.72,1.65,1.6,1.68,1.62,1.64,
1.69,1.72,1.8,1.82,1.72,1.68,1.75,1.88,1.85,1.8,1.65,1.64,1.68,1.72,1.75,1.78,1.72,1.75,1.61,1.62,1.7,1.85,1.88,1.95,2.0,2.02,2.05,2.1,2.08,2.05,2.07,1.98,1.94,1.96,2.04,2.0,1.97,1.95,1.9,1.7,1.61,1.7,1.78,1.75,1.74,1.85,1.92,1.97,1.92,1.88,1.84,1.88,1.95,2.0,1.9,1.88,1.96,2.0,1.94,1.98,1.95,
1.93,1.92,2.07,1.9,2.05,1.43,1.89,1.0,2.08,
2.3,2.32,2.22,2.14,2.0,1.91,1.95,2.02,n,1.68,1.88,1.84,1.8,1.74,1.76,1.75,1.82,1.84,1.88,1.98,2.07,2.05,1.95,1.91,
1.51,1.94,1.9,1.88,1.94,1.88,1.91,1.92,1.85,1.8,1.74,1.72,1.72,1.74,1.7,1.76,1.81,1.83,1.78];
const o3Theta340 = [
.26,.49,.38,.5,.56,.5,.36,.42,.36,.43,.38,.42,.36,.33,.38,.3,.4,.3,.33,.28,.35,.26,.42,.5,.55,.6,.68,.72,.66,.72,.68,.62,.58,.62,.5,.62,.72,.65,.72,.6,.68,.55,.7,.58,.62,
.74,.72,.8,.68,.82,.7,.79,.85,.78,.88,.85,.72,.78,.62,.6,.68,.56,.65,.62,.7,.6,.75,.82,.78,.89,.85,.95,.88,.92,.8,.78,.7,.62,.75,.85,.72,.85,.78,.8,.72,.62,.68,.62,.72,.66,.78,.8,.72,.85,.78,.82,.75,.8,.72,.78,.82,.75,.79,.7,.8,.76,
.79,.76,.85,.75,.7,.55,.43,.79,.8,
.85,1.02,.95,.85,.8,.75,.76,.79,n,.48,.72,.65,.68,.6,.56,.6,.62,.68,.78,.85,.92,.88,.8,.72,
.59,.78,.72,.8,.7,.76,.68,.76,.66,.62,.56,.65,.58,.6,.62,.55,.6,.66,.62];
const o3Theta340Between = [
.35,.42,.52,.44,.52,.4,.42,.34,.4,.4,.44,.34,.38,.32,.34,.36,.28,.36,.3,.34,.3,.38,.46,.52,.62,.62,.7,.66,.68,.64,.56,.66,.6,.55,.68,.58,.66,.74,.66,.62,.52,.64,.72,.55,.58,
.78,.7,.74,.76,.72,.8,.72,.82,.85,.78,.68,.74,.7,.68,.58,.6,.66,.58,.68,.62,.72,.66,.88,.8,.82,.92,.85,.8,.95,.88,.72,.75,.68,.8,.78,.82,.72,.85,.68,.74,.6,.65,.7,.62,.75,.72,.82,.76,.7,.84,.72,.82,.75,.8,.72,.78,.82,.74,.78,.72,.8,
.82,.72,.78,.68,.8,.62,.75,.5,.72,
.95,.9,1.0,.78,.72,.78,.72,.7,n,.55,.68,.7,.62,.66,.58,.56,.66,.72,.72,.9,.88,.78,.85,.75,
.68,.72,.82,.66,.78,.72,.74,.62,.7,.55,.6,.62,.66,.55,.6,.64,.58,.6,.65];
const extraHno3370Times = [11.37,11.39,11.49,12.33,12.37];
const extraHno3370Values = [.62,.66,.68,2.45,2.5];
const extraO3370Times = [11.49,11.67,12.33,12.37];
const extraO3370Values = [.3,.72,1.33,1.28];
const extraO3340Times = [11.39,11.43,11.45];
const extraO3340Values = [.3,.23,.3];
const eTicksUpper = [0,1,2,3,4];
const eTicksLower = [0,1,2,3];
const eHourTicks = [12,13,14,15];
const eHalfHours = [11.5,12,12.5,13,13.5,14,14.5,15,15.5];

/* ---------- helpers ---------- */
const SVGNS = 'http://www.w3.org/2000/svg';
function mk(parent, tag, attrs, name, txt) {
  const el = document.createElementNS(SVGNS, tag);
  for (const k in attrs) el.setAttribute(k, attrs[k]);
  
  
  if (txt !== undefined) el.textContent = txt;
  parent.appendChild(el);
  return el;
}
const jetStops = [[0,0,0,128],[.11,0,0,255],[.36,0,255,255],[.5,127,255,127],[.64,255,255,0],[.89,255,0,0],[1,128,0,0]];
function jet(f) {
  f = Math.max(0, Math.min(1, f));
  for (let i = 1; i < jetStops.length; i++) {
    if (f <= jetStops[i][0]) {
      const a = jetStops[i-1], b = jetStops[i], m = (f-a[0])/(b[0]-a[0]);
      return 'rgb(' + [1,2,3].map(j => Math.round(a[j]+(b[j]-a[j])*m)).join(',') + ')';
    }
  }
  return 'rgb(128,0,0)';
}
const xT = t => 1001.25 + 216.3*(t-12);
const yA = (alt, dy) => 83.3 + (14-alt)*28.5 + dy;
function linePath(xs, ys, xf, yf) {
  let d = '', pen = false;
  xs.forEach((t, i) => {
    if (t === null || ys[i] === null) { pen = false; return; }
    d += (pen ? 'L' : 'M') + xf(t).toFixed(1) + ',' + yf(ys[i]).toFixed(1);
    pen = true;
  });
  return d;
}

/* ---------- curtain panels ---------- */
function drawCurtain(g, columns, vmax, dy, cbarTicks, prefix) {
  const top = 54.8 + dy, bot = 339.8 + dy, left = 828.5, right = 1864;
  mk(g, 'rect', {x:left, y:top, width:xT(waypointTimes[0])-left, height:bot-top, fill:'#bfbfbf'}, prefix + '-out-of-plane-shading');
  const cells = mk(g, 'g', {'shape-rendering':'crispEdges'}, prefix + '-heatmap');
  columns.forEach((col, c) => {
    col.forEach((v, r) => {
      if (v === null) return;
      const upper = Math.min(levelTop - levelStep*r, colCeiling[c]);
      const lower = levelTop - levelStep*(r+1);
      if (upper <= lower) return;
      const x0 = Math.round(xT(colStart[c])), x1 = Math.round(xT(colEnd[c]));
      const y0 = Math.round(yA(upper, dy)), y1 = Math.round(yA(lower, dy));
      mk(cells, 'rect', {x:x0, y:y0, width:x1-x0, height:y1-y0, fill:jet(v/vmax)}, prefix + '-heatmap-cell');
    });
  });
  scanGapTimes.forEach(t => {
    mk(g, 'line', {x1:xT(t), x2:xT(t), y1:yA(13.0,dy), y2:yA(8.6,dy), stroke:'#fff', 'stroke-width':1.4, opacity:.7}, prefix + '-scan-gap');
  });
  mk(g, 'rect', {x:left, y:top, width:xT(waypointTimes[0])-left, height:bot-top, fill:'#bfbfbf', opacity:.38}, prefix + '-shading-veil');

  waypointTimes.forEach((t, i) => {
    mk(g, 'line', {x1:xT(t), x2:xT(t), y1:top+4, y2:bot, stroke:'#666', 'stroke-width':2, 'stroke-dasharray':'8 5'}, prefix + '-waypoint-line');
    mk(g, 'text', {x:xT(t)+2, y:75+dy, style:'font-size:27px'}, prefix + '-waypoint-label', waypointNames[i]);
  });
  const yf = a => yA(a, dy);
  mk(g, 'path', {d:linePath(pvuTimes, pvuAlts, xT, yf), fill:'none', stroke:'#111', 'stroke-width':2}, prefix + '-2pvu-contour');
  mk(g, 'path', {d:linePath(theta370Times, theta370Alts, xT, yf), fill:'none', stroke:'#000', 'stroke-width':2.6, 'stroke-dasharray':'10 5'}, prefix + '-370k-contour');
  mk(g, 'path', {d:linePath(theta340Times, theta340Alts, xT, yf), fill:'none', stroke:'#000', 'stroke-width':2.6, 'stroke-dasharray':'10 5'}, prefix + '-340k-contour');
  mk(g, 'path', {d:linePath(flightTimes, flightAlts, xT, yf), fill:'none', stroke:'#000', 'stroke-width':2.6}, prefix + '-flight-altitude');
  mk(g, 'text', {x:1272, y:128+dy, style:'font-size:27.5px'}, prefix + '-370k-label', '370K');
  mk(g, 'text', {x:1272, y:182+dy, style:'font-size:27.5px'}, prefix + '-340k-label', '340K');
  mk(g, 'text', {x:1272, y:297+dy, style:'font-size:27.5px'}, prefix + '-2pvu-label', '2PVU');
  mk(g, 'rect', {x:left, y:top, width:right-left, height:bot-top, fill:'none', stroke:'#333', 'stroke-width':1.6}, prefix + '-frame');
  altTicks.forEach(a => {
    mk(g, 'line', {x1:left-6, x2:left, y1:yA(a,dy), y2:yA(a,dy), stroke:'#333', 'stroke-width':1.5}, prefix + '-y-tick');
    mk(g, 'text', {x:815, y:yA(a,dy)+10, 'text-anchor':'end'}, prefix + '-y-tick-label', String(a));
  });
  hourTicks.forEach((h, i) => {
    mk(g, 'line', {x1:xT(h), x2:xT(h), y1:bot, y2:bot+6, stroke:'#333', 'stroke-width':1.5}, prefix + '-x-tick');
    mk(g, 'text', {x:xT(h), y:372+dy, 'text-anchor':'middle'}, prefix + '-x-tick-label', hourLabels[i]);
  });
  /* colour bar */
  const cTop = 68.3 + dy, cBot = 340 + dy;
  mk(g, 'rect', {x:1927.5, y:cTop, width:15, height:cBot-cTop, fill:'url(#jetV)'}, prefix + '-colorbar');
  mk(g, 'polygon', {points:'1927.5,' + cTop + ' 1935,' + (cTop-14) + ' 1942.5,' + cTop, fill:'#800000'}, prefix + '-colorbar-extend');
  cbarTicks.forEach((lab, i) => {
    const y = cBot - (cBot-cTop)*i/(cbarTicks.length-1);
    mk(g, 'line', {x1:1942.5, x2:1948, y1:y, y2:y, stroke:'#333', 'stroke-width':1.5}, prefix + '-colorbar-tick');
    mk(g, 'text', {x:1954, y:y+10}, prefix + '-colorbar-tick-label', lab);
  });
}
drawCurtain(document.getElementById('panel-b'), o3Columns, 1.2, 0, o3CbarTicks, 'o3');
drawCurtain(document.getElementById('panel-c'), gloriaHno3Columns, 8, 391.7, hno3CbarTicks, 'gloria-hno3');
drawCurtain(document.getElementById('panel-d'), clamsHno3Columns, 8, 783.4, hno3CbarTicks, 'clams-hno3');

/* ---------- altitude colour bar ticks (panel a) ---------- */
const fig = document.getElementById('figure');
altCbarTicks.forEach(v => {
  const y = 927 - (v-2)/14*677;
  mk(fig, 'line', {x1:595.5, x2:601, y1:y, y2:y, stroke:'#333', 'stroke-width':1.5}, 'altitude-colorbar-tick');
  mk(fig, 'text', {x:608, y:y+10}, 'altitude-colorbar-tick-label', String(v));
});

/* ---------- panel (e) ---------- */
const ex = t => 997.7 + 218*(t-12);
const yUpper = v => 1490.4 - v*50.2;
const yLower = v => 1741.6 - v*62.7;
const eG = document.getElementById('panel-e');
const eLeft = 827, eRight = 1866, eTop = 1240.4, eMid = 1490.4, eBot = 1741.6;
mk(eG, 'rect', {x:eLeft, y:eTop, width:ex(waypointTimes[0]+0.001)-eLeft, height:eBot-eTop, fill:'#cccccc'}, 'e-out-of-plane-shading');
eHalfHours.forEach(h => {
  mk(eG, 'line', {x1:ex(h), x2:ex(h), y1:eTop, y2:eBot, stroke:'#777', 'stroke-width':1.2, 'stroke-dasharray':'2 2'}, 'e-vertical-gridline');
});
eTicksUpper.forEach(v => {
  if (v > 0) mk(eG, 'line', {x1:eLeft, x2:eRight, y1:yUpper(v), y2:yUpper(v), stroke:'#777', 'stroke-width':1.2, 'stroke-dasharray':'2 2'}, 'e-upper-gridline');
  mk(eG, 'line', {x1:eLeft-8, x2:eLeft, y1:yUpper(v), y2:yUpper(v), stroke:'#222', 'stroke-width':1.5}, 'e-upper-y-tick');
  mk(eG, 'text', {class:'e', transform:'translate(813,' + (yUpper(v)+9) + ') scale(1.22,1)', 'text-anchor':'end'}, 'e-upper-y-tick-label', String(v));
});
eTicksLower.forEach(v => {
  if (v > 0) mk(eG, 'line', {x1:eLeft, x2:eRight, y1:yLower(v), y2:yLower(v), stroke:'#777', 'stroke-width':1.2, 'stroke-dasharray':'2 2'}, 'e-lower-gridline');
  mk(eG, 'line', {x1:eLeft-8, x2:eLeft, y1:yLower(v), y2:yLower(v), stroke:'#222', 'stroke-width':1.5}, 'e-lower-y-tick');
  mk(eG, 'text', {class:'e', transform:'translate(813,' + (yLower(v)+9) + ') scale(1.22,1)', 'text-anchor':'end'}, 'e-lower-y-tick-label', String(v));
});
const redFill = t => t < waypointTimes[0] ? '#cc0000' : '#ff0000';
function drawRed(ts, vs, yf, name) {
  ts.forEach((t, i) => {
    if (vs[i] === null || vs[i] === undefined) return;
    mk(eG, 'ellipse', {cx:ex(t), cy:yf(vs[i]), rx:6.6, ry:5.6, fill:redFill(t)}, name);
  });
}
function drawRing(ts, vs, yf, name, offset) {
  ts.forEach((t, i) => {
    if (vs[i] === null || vs[i] === undefined) return;
    mk(eG, 'ellipse', {cx:ex(t + offset), cy:yf(vs[i]), rx:6, ry:5, fill:'none', stroke:'#000', 'stroke-width':1.2}, name);
  });
}
drawRed(sampleTimes, hno3Theta370, yUpper, 'hno3-370k-point');
drawRed(extraHno3370Times, extraHno3370Values, yUpper, 'hno3-370k-point');
drawRing(sampleTimes, o3Theta370, yUpper, 'o3-370k-point', 0);
drawRing(sampleTimes, o3Theta370Between, yUpper, 'o3-370k-point', 0.01);
drawRing(extraO3370Times, extraO3370Values, yUpper, 'o3-370k-point', 0);
drawRed(sampleTimes, hno3Theta340, yLower, 'hno3-340k-point');
drawRing(sampleTimes, o3Theta340, yLower, 'o3-340k-point', 0);
drawRing(sampleTimes, o3Theta340Between, yLower, 'o3-340k-point', 0.01);
drawRing(extraO3340Times, extraO3340Values, yLower, 'o3-340k-point', 0);

waypointTimes.forEach((t, i) => {
  mk(eG, 'line', {x1:ex(t), x2:ex(t), y1:eTop, y2:eBot, stroke:'#222', 'stroke-width':3, 'stroke-dasharray':'5 4'}, 'e-waypoint-line');
  mk(eG, 'text', {class:'e', transform:'translate(' + (ex(t)+1) + ',1235) scale(1.22,1)', 'text-anchor':'middle'}, 'e-waypoint-label', waypointNames[i]);
});
mk(eG, 'line', {x1:eLeft-8, x2:eRight, y1:eMid, y2:eMid, stroke:'#222', 'stroke-width':1.6}, 'e-panel-divider');
mk(eG, 'rect', {x:eLeft, y:eTop, width:eRight-eLeft, height:eBot-eTop, fill:'none', stroke:'#333', 'stroke-width':1.8}, 'e-frame');
eHalfHours.forEach(h => {
  mk(eG, 'line', {x1:ex(h), x2:ex(h), y1:eBot, y2:eBot+7, stroke:'#222', 'stroke-width':1.5}, 'e-x-tick');
});
eHourTicks.forEach((h, i) => {
  mk(eG, 'text', {class:'e', transform:'translate(' + ex(h) + ',1774) scale(1.22,1)', 'text-anchor':'middle'}, 'e-x-tick-label', hourLabels[i]);
});
</script>
</body>
</html>
